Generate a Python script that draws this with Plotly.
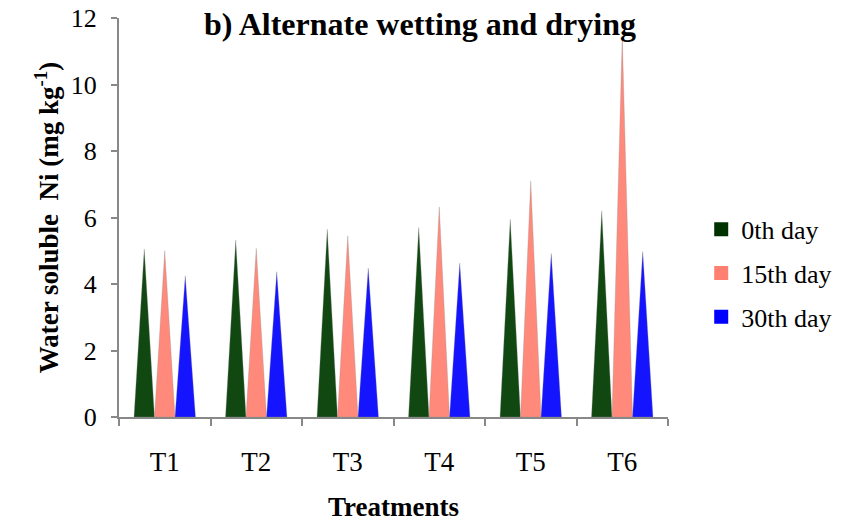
import plotly.graph_objects as go

categories = ["T1", "T2", "T3", "T4", "T5", "T6"]
series_names = ["0th day", "15th day", "30th day"]
day0 = [5.05, 5.32, 5.65, 5.70, 5.95, 6.20]
day15 = [5.00, 5.07, 5.45, 6.32, 7.10, 11.45]
day30 = [4.25, 4.37, 4.48, 4.63, 4.92, 4.98]
y_ticks = [0, 2, 4, 6, 8, 10, 12]

series_values = [day0, day15, day30]
fill_colors = ["#114812", "#FF8A7B", "#1414FF"]
legend_colors = ["#003200", "#FF8070", "#0000FF"]
offsets = [-0.224, 0.0, 0.224]
half_w = 0.112

FONT = "Liberation Serif"

fig = go.Figure()
for name, vals, fc, off in zip(series_names, series_values, fill_colors, offsets):
    xs, ys = [], []
    for i, v in enumerate(vals):
        c = i + off
        xs += [c - half_w, c, c + half_w, c - half_w, None]
        ys += [0, v, 0, 0, None]
    fig.add_trace(go.Scatter(
        x=xs, y=ys, mode="lines", fill="toself", fillcolor=fc,
        line=dict(color="rgba(140,140,140,0.5)", width=0.6),
        showlegend=False, hoverinfo="skip", name=name,
    ))

for k, (name, lc) in enumerate(zip(series_names, legend_colors)):
    fig.add_trace(go.Scatter(
        x=[None], y=[None], mode="markers", name=name,
        marker=dict(symbol="square", size=14, color=lc),
        legendgroup=f"g{k}",
    ))

n = len(categories)
fig.update_layout(
    width=851, height=525,
    margin=dict(l=119, r=183, t=18, b=108),
    paper_bgcolor="white", plot_bgcolor="white",
    font=dict(family=FONT, color="black", size=26),
    title=dict(text="<b>b) Alternate wetting and drying</b>",
               x=0.4935, xanchor="center", y=0.954, yanchor="middle",
               font=dict(family=FONT, size=32, color="black")),
    legend=dict(x=1.0605, xanchor="left", y=0.36, yanchor="middle",
                font=dict(family=FONT, size=26, color="black"),
                tracegroupgap=7, itemwidth=30, bgcolor="rgba(0,0,0,0)"),
    showlegend=True,
)
fig.update_xaxes(
    range=[-0.5, n - 0.5], automargin=False,
    tickvals=list(range(n)), ticktext=categories,
    ticks="outside", ticklen=0, tickcolor="#888888",
    minor=dict(tickvals=[i - 0.5 for i in range(n + 1)], ticks="outside",
               ticklen=7, tickwidth=2, tickcolor="#888888"),
    showline=True, linecolor="#888888", linewidth=2,
    showgrid=False, zeroline=False,
    ticklabelstandoff=20, ticklabeloverflow="allow",
    tickfont=dict(family=FONT, size=27, color="black"),
    title=dict(text="<b>Treatments</b>", standoff=21,
               font=dict(family=FONT, size=27, color="black")),
)
fig.update_yaxes(
    range=[0, 12], tickvals=y_ticks, automargin=False,
    ticks="outside", ticklen=6, tickwidth=2, tickcolor="#888888",
    showline=True, linecolor="#888888", linewidth=2,
    showgrid=False, zeroline=False,
    ticklabelstandoff=9, ticklabeloverflow="allow",
    tickfont=dict(family=FONT, size=26, color="black"),
    title=dict(text="<b>Water soluble  Ni (mg kg<sup>-1</sup>)</b>", standoff=4,
               font=dict(family=FONT, size=27, color="black")),
)

fig.write_html("out.html",
               config={"displayModeBar": False},
               post_script="document.body.style.margin='0';document.body.style.overflow='hidden';")
